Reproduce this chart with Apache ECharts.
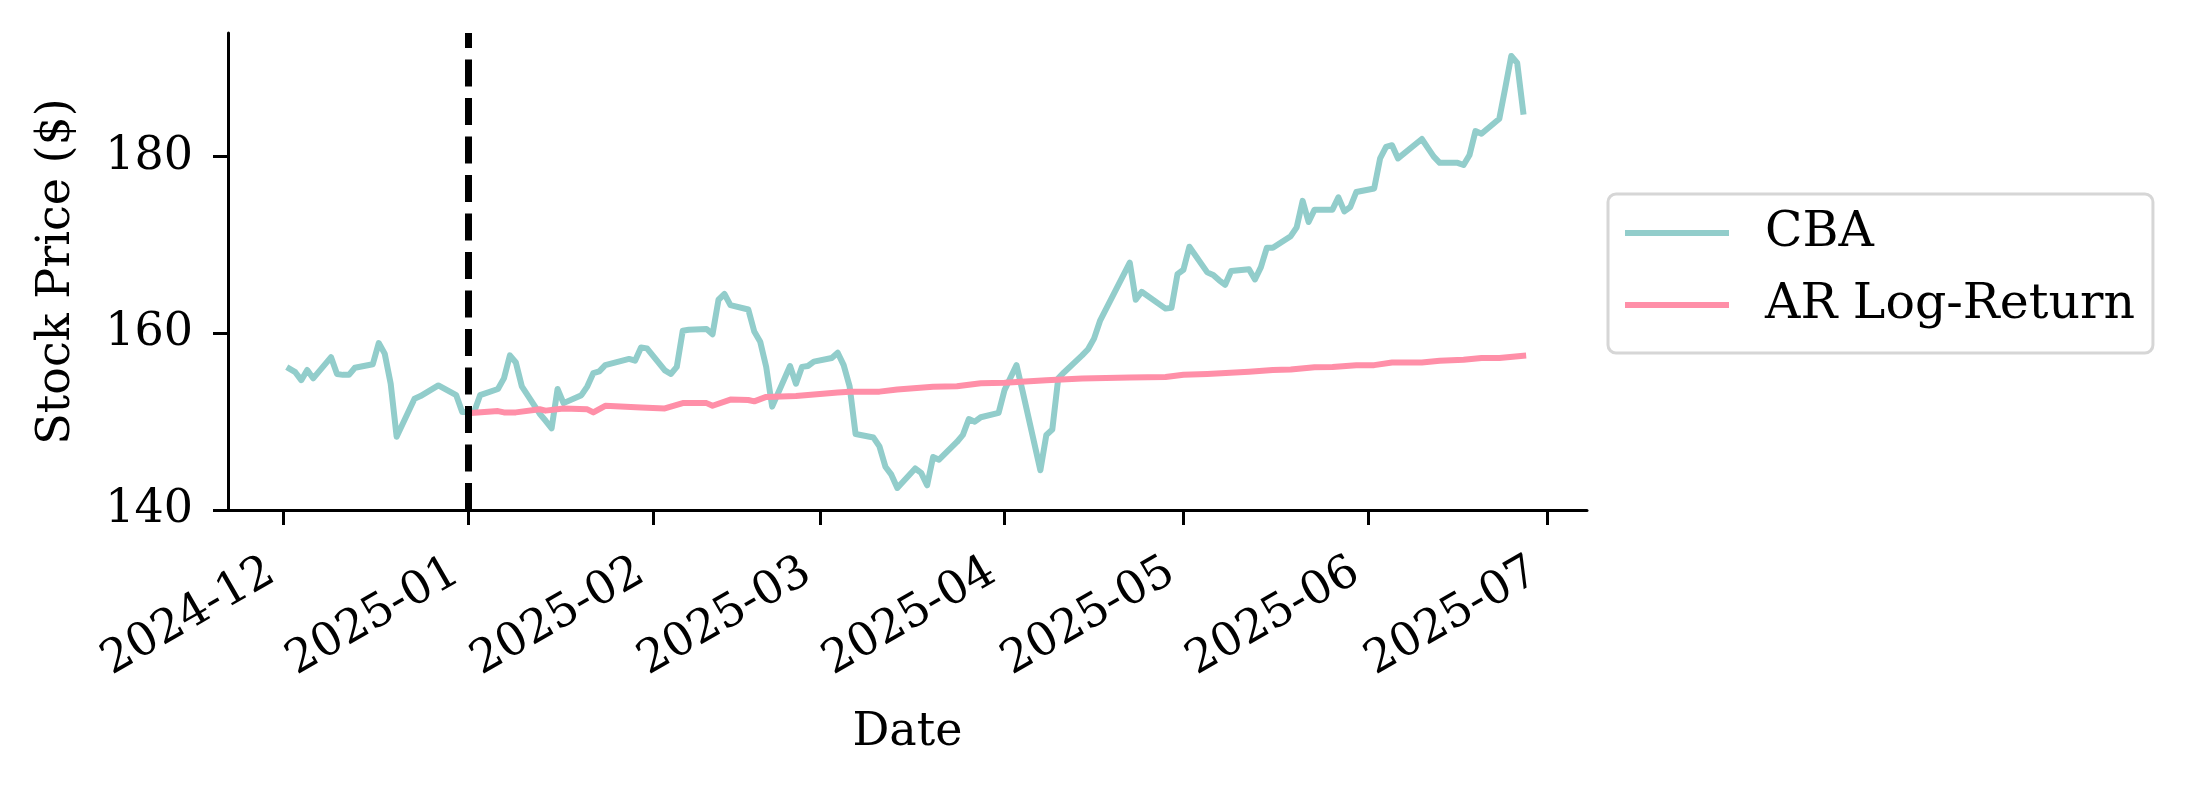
<!DOCTYPE html>
<html>
<head>
<meta charset="utf-8">
<title>CBA Stock Price</title>
<script src="https://cdn.jsdelivr.net/npm/echarts@6.0.0/dist/echarts.min.js"></script>
<style>
  html, body { margin: 0; padding: 0; background: #fff; }
  #chart { width: 2185px; height: 788px; }
</style>
</head>
<body>
<div id="chart"></div>
<script>
// CBA closing prices (ASX trading days)
const cbaDates = [
  '2024-12-02', '2024-12-03', '2024-12-04', '2024-12-05', '2024-12-06',
  '2024-12-09', '2024-12-10', '2024-12-11', '2024-12-12', '2024-12-13',
  '2024-12-16', '2024-12-17', '2024-12-18', '2024-12-19', '2024-12-20',
  '2024-12-23', '2024-12-24', '2024-12-27', '2024-12-30', '2024-12-31',
  '2025-01-02', '2025-01-03', '2025-01-06', '2025-01-07', '2025-01-08',
  '2025-01-09', '2025-01-10', '2025-01-13', '2025-01-14', '2025-01-15',
  '2025-01-16', '2025-01-17', '2025-01-20', '2025-01-21', '2025-01-22',
  '2025-01-23', '2025-01-24', '2025-01-28', '2025-01-29', '2025-01-30',
  '2025-01-31', '2025-02-03', '2025-02-04', '2025-02-05', '2025-02-06',
  '2025-02-07', '2025-02-10', '2025-02-11', '2025-02-12', '2025-02-13',
  '2025-02-14', '2025-02-17', '2025-02-18', '2025-02-19', '2025-02-20',
  '2025-02-21', '2025-02-24', '2025-02-25', '2025-02-26', '2025-02-27',
  '2025-02-28', '2025-03-03', '2025-03-04', '2025-03-05', '2025-03-06',
  '2025-03-07', '2025-03-10', '2025-03-11', '2025-03-12', '2025-03-13',
  '2025-03-14', '2025-03-17', '2025-03-18', '2025-03-19', '2025-03-20',
  '2025-03-21', '2025-03-24', '2025-03-25', '2025-03-26', '2025-03-27',
  '2025-03-28', '2025-03-31', '2025-04-01', '2025-04-02', '2025-04-03',
  '2025-04-04', '2025-04-07', '2025-04-08', '2025-04-09', '2025-04-10',
  '2025-04-11', '2025-04-14', '2025-04-15', '2025-04-16', '2025-04-17',
  '2025-04-22', '2025-04-23', '2025-04-24', '2025-04-28', '2025-04-29',
  '2025-04-30', '2025-05-01', '2025-05-02', '2025-05-05', '2025-05-06',
  '2025-05-07', '2025-05-08', '2025-05-09', '2025-05-12', '2025-05-13',
  '2025-05-14', '2025-05-15', '2025-05-16', '2025-05-19', '2025-05-20',
  '2025-05-21', '2025-05-22', '2025-05-23', '2025-05-26', '2025-05-27',
  '2025-05-28', '2025-05-29', '2025-05-30', '2025-06-02', '2025-06-03',
  '2025-06-04', '2025-06-05', '2025-06-06', '2025-06-10', '2025-06-11',
  '2025-06-12', '2025-06-13', '2025-06-16', '2025-06-17', '2025-06-18',
  '2025-06-19', '2025-06-20', '2025-06-23', '2025-06-24', '2025-06-25',
  '2025-06-26', '2025-06-27'
];
const cbaPrices = [
  156.0, 155.6, 154.7, 155.85, 154.9,
  157.3, 155.4, 155.3, 155.3, 156.1,
  156.5, 158.9, 157.7, 154.3, 148.3,
  152.6, 152.9, 154.1, 153.0, 151.1,
  151.1, 153.0, 153.7, 154.9, 157.5,
  156.7, 154.0, 150.9, 150.1, 149.25,
  153.7, 152.1, 153.0, 154.0, 155.5,
  155.7, 156.4, 157.1, 156.9, 158.4,
  158.3, 155.8, 155.4, 156.2, 160.3,
  160.4, 160.5, 159.9, 163.8, 164.45,
  163.2, 162.7, 160.2, 159.05, 156.2,
  151.7, 156.3, 154.3, 156.2, 156.3,
  156.8, 157.2, 157.8, 156.4, 154.0,
  148.6, 148.2, 147.2, 144.9, 144.0,
  142.5, 144.7, 144.2, 142.8, 146.0,
  145.7, 147.7, 148.5, 150.3, 150.0,
  150.5, 151.0, 153.6, 155.0, 156.4,
  153.5, 144.5, 148.5, 149.1, 154.9,
  155.6, 157.5, 158.2, 159.4, 161.4,
  168.0, 163.8, 164.7, 162.8, 162.9,
  166.7, 167.2, 169.8, 166.9, 166.6,
  166.0, 165.5, 167.05, 167.25, 166.1,
  167.5, 169.7, 169.7, 171.0, 172.0,
  175.0, 172.6, 174.0, 174.0, 175.4,
  173.8, 174.3, 176.0, 176.4, 179.8,
  181.1, 181.3, 179.8, 182.0, 181.0,
  180.0, 179.3, 179.3, 179.05, 180.2,
  182.9, 182.6, 184.3, 187.8, 191.4,
  190.6, 185.1
];

// AR log-return forecast path
const arDates = [
  '2025-01-02', '2025-01-06', '2025-01-07', '2025-01-09', '2025-01-13',
  '2025-01-14', '2025-01-17', '2025-01-21', '2025-01-22', '2025-01-24',
  '2025-01-30', '2025-02-03', '2025-02-06', '2025-02-10', '2025-02-11',
  '2025-02-14', '2025-02-17', '2025-02-18', '2025-02-20', '2025-02-25',
  '2025-03-04', '2025-03-06', '2025-03-11', '2025-03-14', '2025-03-20',
  '2025-03-24', '2025-03-28', '2025-04-01', '2025-04-08', '2025-04-14',
  '2025-04-22', '2025-04-28', '2025-05-01', '2025-05-05', '2025-05-12',
  '2025-05-16', '2025-05-19', '2025-05-23', '2025-05-26', '2025-05-30',
  '2025-06-02', '2025-06-05', '2025-06-10', '2025-06-13', '2025-06-17',
  '2025-06-20', '2025-06-23', '2025-06-27'
];
const arPrices = [
  151.0, 151.2, 151.05, 151.05, 151.4,
  151.25, 151.5, 151.4, 151.05, 151.8,
  151.6, 151.5, 152.1, 152.1, 151.8,
  152.5, 152.45, 152.3, 152.8, 152.9,
  153.3, 153.4, 153.4, 153.65, 153.95,
  154.0, 154.35, 154.4, 154.7, 154.9,
  155.0, 155.05, 155.3, 155.4, 155.65,
  155.85, 155.9, 156.15, 156.2, 156.4,
  156.4, 156.7, 156.7, 156.9, 157.0,
  157.2, 157.2, 157.45
];

const monthTicks = [
  '2024-12-01', '2025-01-01', '2025-02-01', '2025-03-01',
  '2025-04-01', '2025-05-01', '2025-06-01', '2025-07-01'
];
const priceTicks = [140, 160, 180];
const forecastStart = '2025-01-01';

function ts(s) {
  return new Date(s + 'T00:00:00').getTime();
}
function pairs(dates, values) {
  return dates.map(function (d, i) { return [ts(d), values[i]]; });
}

const font = 'DejaVu Serif';
const hour = 3600 * 1000;

let option = {
  animation: false,
  backgroundColor: '#fff',
  grid: {
    left: 228,
    top: 33,
    width: 1359,
    height: 477,
    containLabel: false,
    outerBoundsMode: 'none'
  },
  legend: {
    orient: 'vertical',
    left: 1608,
    top: 194,
    padding: [12, 18, 21, 17],
    itemGap: 18,
    itemWidth: 104,
    itemHeight: 6,
    icon: 'rect',
    borderColor: '#d6d6d6',
    borderWidth: 3,
    borderRadius: 8,
    itemStyle: { borderWidth: 0 },
    textStyle: {
      fontFamily: font,
      fontSize: 49,
      color: '#000',
      lineHeight: 54,
      padding: [0, 0, 0, 31]
    },
    data: ['CBA', 'AR Log-Return']
  },
  xAxis: {
    // dates as timestamps on a value axis, labelled by month
    type: 'value',
    min: ts('2024-11-21') + 17 * hour,
    max: ts('2025-07-07') + 17 * hour,
    name: 'Date',
    nameLocation: 'middle',
    nameGap: 200,
    nameTextStyle: { fontFamily: font, fontSize: 46, color: '#000' },
    axisLine: { show: true, lineStyle: { color: '#000', width: 3 } },
    axisTick: {
      show: true,
      length: 15,
      lineStyle: { color: '#000', width: 3 },
      customValues: monthTicks.map(ts)
    },
    axisLabel: {
      customValues: monthTicks.map(ts),
      rotate: 30,
      margin: 52,
      padding: [0, 14, 0, 0],
      fontFamily: font,
      fontSize: 46,
      color: '#000',
      formatter: function (value) {
        let d = new Date(value);
        let m = d.getMonth() + 1;
        return d.getFullYear() + '-' + (m < 10 ? '0' + m : m);
      }
    },
    splitLine: { show: false }
  },
  yAxis: {
    type: 'value',
    min: 140,
    max: 194,
    interval: 20,
    name: 'Stock Price ($)',
    nameLocation: 'middle',
    nameGap: 148,
    nameTextStyle: { fontFamily: font, fontSize: 46, color: '#000' },
    axisLine: { show: true, lineStyle: { color: '#000', width: 3 } },
    axisTick: {
      show: true,
      length: 15,
      lineStyle: { color: '#000', width: 3 },
      customValues: priceTicks
    },
    axisLabel: {
      customValues: priceTicks,
      margin: 35,
      fontFamily: font,
      fontSize: 46,
      color: '#000'
    },
    splitLine: { show: false }
  },
  series: [
    {
      name: 'CBA',
      type: 'line',
      z: 2,
      symbol: 'none',
      showSymbol: false,
      itemStyle: { color: '#92cdcb' },
      lineStyle: { color: '#92cdcb', width: 6, join: 'round', cap: 'square' },
      data: pairs(cbaDates, cbaPrices)
    },
    {
      name: 'AR Log-Return',
      type: 'line',
      z: 3,
      symbol: 'none',
      showSymbol: false,
      itemStyle: { color: '#ff8fa8' },
      lineStyle: { color: '#ff8fa8', width: 6, join: 'round', cap: 'square' },
      data: pairs(arDates, arPrices)
    },
    {
      // forecast start marker
      name: 'start',
      type: 'line',
      z: 4,
      data: [],
      markLine: {
        silent: true,
        symbol: 'none',
        animation: false,
        label: { show: false },
        lineStyle: { color: '#000', width: 7, type: [27, 11.5] },
        data: [{ xAxis: ts(forecastStart) }]
      }
    }
  ]
};

let chart = echarts.init(document.getElementById('chart'));
chart.setOption(option);
</script>
</body>
</html>
